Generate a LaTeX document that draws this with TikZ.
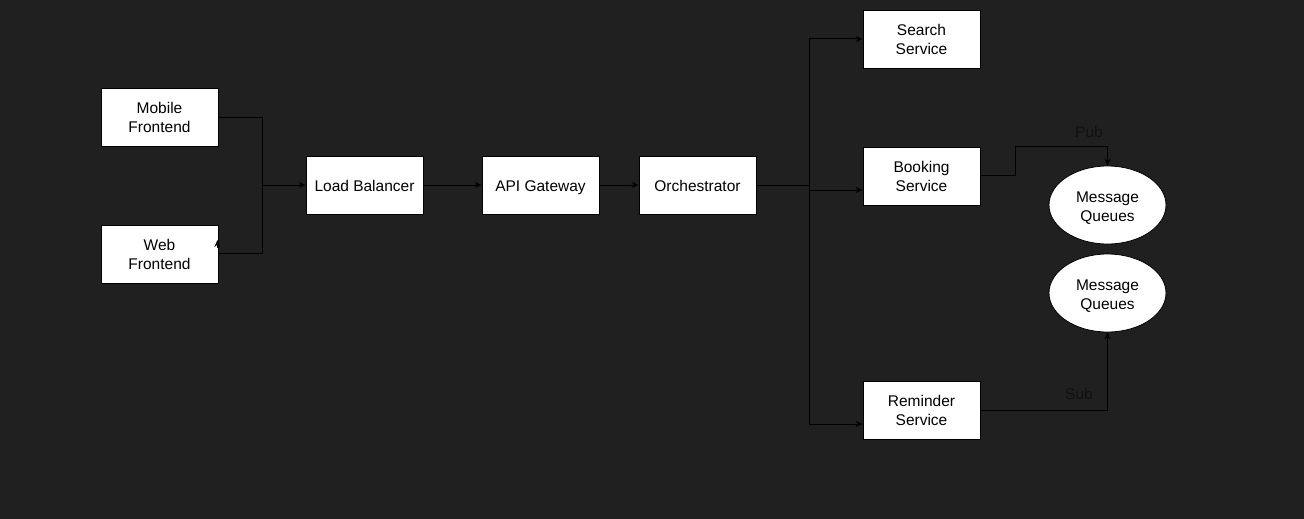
\documentclass[tikz,border=0pt]{standalone}
\usepackage{fontspec}
\setmainfont{Liberation Sans}
\usetikzlibrary{arrows.meta,shapes.geometric,calc}
\definecolor{bg}{HTML}{202020}
\definecolor{lbl}{HTML}{111111}
\newcommand{\tallstrut}[1]{\rule{0pt}{#1}}
\tikzset{
  box/.style={draw=black, fill=white, line width=0.8pt, minimum width=117pt, minimum height=58pt, inner sep=0pt, align=center, font=\fontsize{15.5}{19}\selectfont},
  oneline/.style={text height=13pt, text depth=0pt},
  oval/.style={ellipse, draw=black, fill=white, line width=0.8pt, minimum width=117pt, minimum height=78pt, inner sep=0pt, align=center, font=\fontsize{15.5}{19}\selectfont},
  conn/.style={draw=black, line width=1pt},
  arr/.style={conn, -{Stealth[length=7pt,width=6pt]}},
  lab/.style={text=lbl, font=\fontsize{15.5}{19}\selectfont, inner sep=0pt}
}
\begin{document}
\begin{tikzpicture}[x=1pt,y=-1pt]
\useasboundingbox[fill=bg] (0,0) rectangle (1304,519);
\node[box] (mob) at (159.5,117) {\tallstrut{13pt}Mobile\\Frontend};
\node[box] (web) at (159.5,254) {\tallstrut{13pt}Web\\Frontend};
\node[box,oneline] (lb) at (364.5,185) {Load Balancer};
\node[box,oneline] (api) at (540.5,185) {API Gateway};
\node[box,oneline] (orch) at (697.5,185) {Orchestrator};
\node[box] (search) at (921.5,39) {\tallstrut{13pt}Search\\Service};
\node[box] (book) at (921.5,176) {\tallstrut{13pt}Booking\\Service};
\node[box] (rem) at (921.5,410) {\tallstrut{13pt}Reminder\\Service};
\node[oval] (mq1) at (1107.5,205) {\tallstrut{16pt}Message\\Queues};
\node[oval] (mq2) at (1107.5,293) {\tallstrut{16pt}Message\\Queues};
\coordinate (j1) at (262,185);
\coordinate (j2) at (809,185);
\draw[arr] (mob.east) -| (j1) -- (lb.west);
\draw[conn] (j1) |- ($(web.east)+(0,-1)$);
\draw[arr] ($(web.east)+(-1,-6)$) -- ++(0,-8);
\draw[arr] (lb.east) -- (api.west);
\draw[arr] (api.east) -- (orch.west);
\draw[conn] (orch.east) -- (j2);
\draw[arr] (j2) |- (search.west);
\draw[arr] (j2) |- ($(book.west)+(0,14)$);
\draw[arr] (j2) |- ($(rem.west)+(0,14)$);
\draw[arr] ($(book.east)+(0,-1)$) -- ++(35,0) |- ($(mq1.north)+(0,-19)$) -- (mq1.north);
\draw[arr] (rem.east) -| (mq2.south);
\node[lab] (pub) at (1089,132) {Pub};
\node[lab] (sub) at (1079,394) {Sub};
\end{tikzpicture}
\end{document}
